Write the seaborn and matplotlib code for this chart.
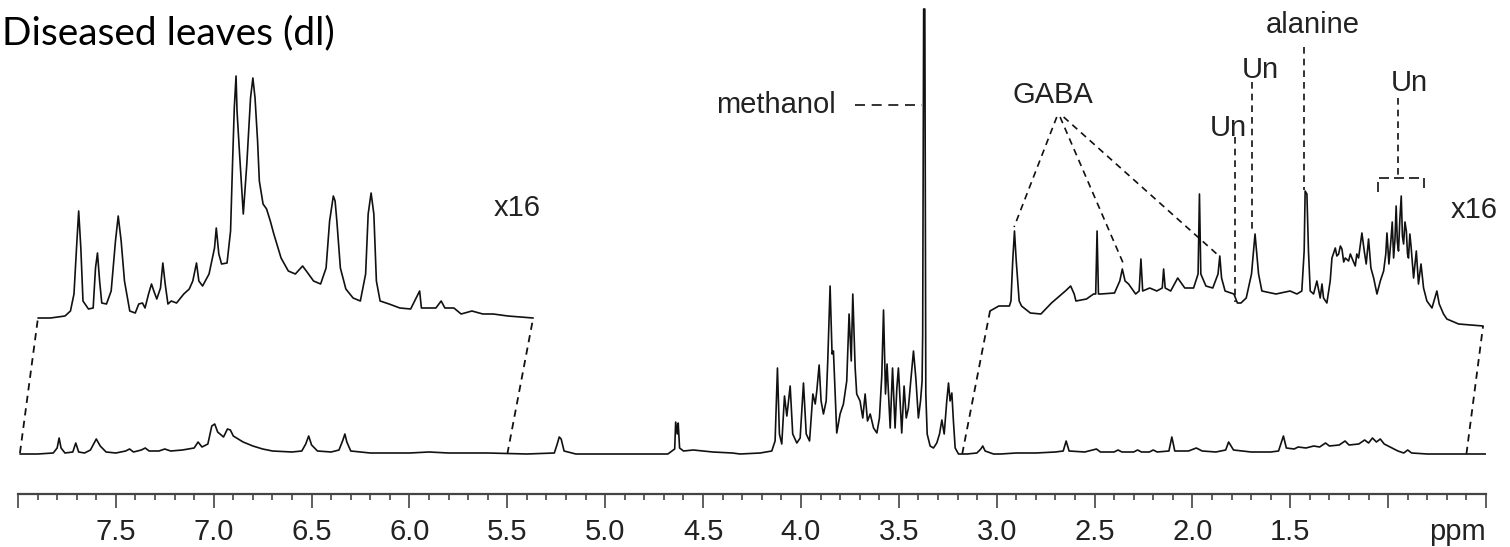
import numpy as np
import matplotlib
matplotlib.use('Agg')
import matplotlib.pyplot as plt
import matplotlib.transforms as mtransforms
from matplotlib.ticker import MultipleLocator, FixedLocator, FixedFormatter
import seaborn as sns

# ----------------------------------------------------------------------
# Data (ppm, displayed intensity above baseline)
# ----------------------------------------------------------------------
main_ppm = [
    7.99, 7.90, 7.82, 7.80, 7.79, 7.78, 7.76, 7.72, 7.705, 7.69, 7.66, 7.63,
    7.60, 7.58, 7.55, 7.50, 7.45, 7.43, 7.41, 7.37, 7.35, 7.33, 7.28, 7.25,
    7.22, 7.16, 7.10, 7.08, 7.06, 7.03, 7.01, 6.995, 6.98, 6.95, 6.93, 6.915,
    6.90, 6.85, 6.80, 6.75, 6.70, 6.60, 6.55, 6.53, 6.515, 6.50, 6.47, 6.40,
    6.36, 6.34, 6.33, 6.32, 6.30, 6.20, 6.00, 5.90, 5.80, 5.60, 5.40, 5.26,
    5.245, 5.235, 5.225, 5.21, 5.15, 4.90, 4.68, 4.645, 4.64, 4.632, 4.627,
    4.62, 4.60, 4.55, 4.45, 4.35,
    4.311, 4.208, 4.149, 4.132, 4.120, 4.110, 4.098, 4.084, 4.072, 4.055,
    4.042, 4.021, 4.004, 3.987, 3.973, 3.956, 3.939, 3.927, 3.919, 3.907,
    3.897, 3.885, 3.871, 3.863, 3.851, 3.841, 3.834, 3.817, 3.800, 3.783,
    3.766, 3.754, 3.743, 3.735, 3.723, 3.715, 3.698, 3.684, 3.672, 3.660,
    3.646, 3.629, 3.612, 3.599, 3.587, 3.578, 3.568, 3.560, 3.544, 3.532,
    3.519, 3.510, 3.502, 3.485, 3.473, 3.462, 3.451, 3.439, 3.425, 3.413,
    3.400, 3.389, 3.381, 3.378, 3.373, 3.367, 3.362, 3.355, 3.340, 3.323,
    3.306, 3.292, 3.280, 3.268, 3.255, 3.246, 3.238, 3.229, 3.221, 3.212,
    3.195, 3.152, 3.101, 3.081, 3.071, 3.059, 3.016, 2.98,
    2.90, 2.80, 2.70, 2.66, 2.645, 2.63, 2.55, 2.49, 2.47, 2.40, 2.38, 2.36,
    2.30, 2.28, 2.26, 2.22, 2.20, 2.18, 2.12, 2.105, 2.09, 2.02, 1.98, 1.95,
    1.88, 1.83, 1.815, 1.79, 1.70, 1.60, 1.56, 1.535, 1.52, 1.48, 1.46, 1.42,
    1.38, 1.35, 1.32, 1.30, 1.25, 1.22, 1.20, 1.15, 1.12, 1.10, 1.08, 1.06,
    1.04, 1.02, 0.99, 0.95, 0.92, 0.90, 0.88, 0.80, 0.50,
]
main_int = [
    0, 0, 1, 6, 16, 6, 1, 2, 11, 2, 1, 4,
    15, 8, 2, 1, 3, 5, 2, 4, 6, 3, 3, 5,
    3, 4, 6, 12, 7, 10, 28, 30, 22, 17, 25, 24,
    18, 12, 8, 5, 3, 2, 3, 10, 18, 9, 3, 2,
    4, 14, 20, 12, 3, 1, 1, 2, 1, 1, 0, 1,
    10, 17, 15, 3, 0, 0, 0, 5, 32, 20, 31,
    6, 3, 4, 2, 1,
    0, 1, 3, 13, 86, 20, 10, 58, 38, 68,
    20, 11, 16, 71, 20, 13, 60, 50, 63, 89,
    53, 40, 53, 93, 168, 100, 103, 21, 40, 50,
    73, 140, 93, 160, 86, 60, 53, 36, 60, 33,
    40, 26, 21, 36, 78, 144, 60, 90, 26, 86,
    26, 66, 86, 21, 68, 36, 46, 73, 103, 76,
    36, 53, 73, 120, 445, 445, 60, 20, 8, 6,
    11, 20, 34, 20, 53, 71, 53, 61, 33, 6,
    0, 0, 1, 5, 8, 3, 0, 0,
    1, 1, 2, 3, 13, 3, 2, 5, 2, 2, 4, 2,
    2, 4, 2, 2, 4, 2, 3, 17, 3, 3, 6, 3,
    2, 4, 12, 4, 2, 2, 3, 18, 6, 5, 7, 6,
    8, 7, 11, 8, 9, 13, 9, 10, 14, 11, 16, 12,
    15, 10, 7, 3, 1, 4, 1, 0, 0,
]

# x16 expansion of the aromatic region, drawn raised above the trace
left_inset_ppm = [
    7.898, 7.834, 7.760, 7.732, 7.714, 7.701, 7.690, 7.679, 7.668, 7.640,
    7.616, 7.604, 7.594, 7.583, 7.572, 7.548, 7.524, 7.502, 7.488, 7.473,
    7.456, 7.429, 7.401, 7.383, 7.364, 7.351, 7.333, 7.318, 7.306, 7.291,
    7.272, 7.260, 7.248, 7.234, 7.217, 7.190, 7.153, 7.125, 7.107, 7.088,
    7.076, 7.057, 7.024, 6.996, 6.987, 6.974, 6.960, 6.932, 6.914, 6.904,
    6.895, 6.886, 6.881, 6.868, 6.849, 6.831, 6.812, 6.800, 6.789, 6.776,
    6.767, 6.748, 6.730, 6.711, 6.693, 6.656, 6.619, 6.583, 6.546, 6.527,
    6.490, 6.454, 6.426, 6.408, 6.389, 6.380, 6.371, 6.353, 6.325, 6.288,
    6.251, 6.224, 6.211, 6.196, 6.182, 6.169, 6.150, 6.104, 6.049, 5.994,
    5.948, 5.939, 5.865, 5.838, 5.819, 5.773, 5.736, 5.681, 5.625, 5.572,
    5.497, 5.368,
]
left_inset_int = [
    136, 136, 138, 143, 160, 206, 243, 206, 153, 145,
    146, 186, 201, 173, 151, 150, 163, 213, 238, 213,
    173, 143, 141, 150, 151, 146, 160, 170, 163, 155,
    166, 191, 170, 150, 153, 151, 160, 165, 173, 191,
    173, 168, 180, 206, 226, 200, 190, 191, 223, 290,
    346, 378, 343, 300, 240, 290, 356, 376, 356, 313,
    273, 250, 245, 233, 220, 196, 183, 180, 188, 183,
    173, 170, 186, 233, 258, 253, 233, 186, 165, 156,
    153, 180, 240, 261, 240, 173, 153, 150, 146, 145,
    163, 146, 146, 153, 146, 146, 140, 143, 140, 140,
    138, 136,
]

# x16 expansion of the aliphatic region
right_inset_ppm = [
    3.034, 2.989, 2.935, 2.927, 2.918, 2.909, 2.900, 2.885, 2.873, 2.828,
    2.774, 2.720, 2.667, 2.649, 2.622, 2.604, 2.595, 2.541, 2.505, 2.494,
    2.487, 2.480, 2.469, 2.398, 2.371, 2.358, 2.344, 2.326, 2.290, 2.272,
    2.263, 2.254, 2.218, 2.182, 2.154, 2.147, 2.139, 2.111, 2.075, 2.039,
    1.994, 1.971, 1.964, 1.957, 1.931, 1.896, 1.869, 1.860, 1.851, 1.833,
    1.788, 1.770, 1.752, 1.725, 1.698, 1.680, 1.662, 1.645, 1.573, 1.501,
    1.466, 1.441, 1.429, 1.424, 1.415, 1.407, 1.398, 1.381, 1.364, 1.347,
    1.338, 1.330, 1.313, 1.296, 1.287, 1.270, 1.262, 1.253, 1.244, 1.236,
    1.227, 1.219, 1.202, 1.193, 1.185, 1.168, 1.160, 1.151, 1.134, 1.122,
    1.112, 1.100, 1.088, 1.074, 1.057, 1.040, 1.023, 1.012, 1.006, 0.996,
    0.986, 0.979, 0.972, 0.965, 0.959, 0.953, 0.947, 0.940, 0.933, 0.927,
    0.921, 0.914, 0.907, 0.901, 0.896, 0.889, 0.883, 0.876, 0.870, 0.856,
    0.845, 0.832, 0.819, 0.802, 0.776, 0.751, 0.739, 0.717, 0.700, 0.640,
    0.515,
]
right_inset_int = [
    143, 148, 148, 153, 193, 223, 193, 153, 148, 141,
    140, 151, 160, 163, 168, 160, 153, 155, 160, 160,
    223, 160, 160, 161, 173, 185, 173, 170, 160, 163,
    195, 163, 166, 163, 166, 185, 166, 163, 176, 166,
    166, 180, 260, 180, 168, 166, 180, 198, 176, 163,
    160, 151, 151, 156, 180, 220, 180, 163, 160, 163,
    160, 163, 203, 263, 260, 203, 163, 160, 173, 156,
    170, 156, 151, 173, 196, 206, 198, 200, 208, 205,
    192, 196, 193, 200, 196, 188, 200, 196, 221, 203,
    190, 215, 186, 176, 160, 173, 183, 200, 221, 190,
    213, 232, 196, 215, 248, 212, 203, 235, 258, 218,
    210, 232, 223, 200, 196, 220, 208, 190, 176, 203,
    170, 190, 166, 153, 146, 163, 150, 140, 135, 130,
    128,
]

tick_ppm = [8.0, 7.5, 7.0, 6.5, 6.0, 5.5, 5.0, 4.5, 4.0, 3.5, 3.0, 2.5,
            2.0, 1.5, 1.0, 0.5]
tick_labels = ['', '7.5', '7.0', '6.5', '6.0', '5.5', '5.0', '4.5', '4.0',
               '3.5', '3.0', '2.5', '2.0', '1.5', '', '']

# ----------------------------------------------------------------------
# Style
# ----------------------------------------------------------------------
sns.set_style('white')
plt.rcParams['font.family'] = ['Liberation Sans', 'DejaVu Sans']

INK = '#111111'
TXT = '#222222'
AXC = '#444444'
DASH = (0, (4, 3))

fig = plt.figure(figsize=(15.10, 5.47), dpi=100)
W, H = 1510, 547
ax = fig.add_axes([18 / W, (H - 494) / H, (1486 - 18) / W, 494 / H])

# spectrum + the two raised x16 traces
for xs, ys in [(main_ppm, main_int),
               (left_inset_ppm, left_inset_int),
               (right_inset_ppm, right_inset_int)]:
    sns.lineplot(x=xs, y=ys, sort=False, estimator=None, ax=ax,
                 color=INK, linewidth=1.2)

# dashed connectors from the trace to the expansions
connectors = [
    ((main_ppm[0], left_inset_ppm[0]), (1, left_inset_int[0])),
    ((5.50, left_inset_ppm[-1]), (0, left_inset_int[-1])),
    ((3.176, right_inset_ppm[0]), (0, right_inset_int[0])),
    ((0.60, right_inset_ppm[-1]), (0, right_inset_int[-1])),
]
for xs, ys in connectors:
    ax.plot(xs, ys, color=INK, lw=1.3, ls=DASH)

# annotations
fs = 21
ax.text(3.82, 349, 'methanol', ha='right', va='center', fontsize=fs, color=TXT)
ax.plot([3.723, 3.381], [349, 349], color=INK, lw=1.2, ls=(0, (6, 4)))

ax.text(2.711, 359, 'GABA', ha='center', va='center', fontsize=fs, color=TXT)
for (x0, x1), (y0, y1) in [((2.693, 2.911), (337, 227)),
                           ((2.676, 2.354), (337, 191)),
                           ((2.658, 1.858), (337, 197))]:
    ax.plot([x0, x1], [y0, y1], color=INK, lw=1.2, ls=DASH)

ax.text(1.383, 429, 'alanine', ha='center', va='center', fontsize=fs, color=TXT)
ax.plot([1.429, 1.429], [407, 264], color=INK, lw=1.2, ls=DASH)

ax.text(1.654, 384, 'Un', ha='center', va='center', fontsize=fs, color=TXT)
ax.plot([1.695, 1.695], [372, 221], color=INK, lw=1.2, ls=DASH)

ax.text(1.817, 326, 'Un', ha='center', va='center', fontsize=fs, color=TXT)
ax.plot([1.781, 1.781], [317, 152], color=INK, lw=1.2, ls=DASH)

ax.text(0.892, 371, 'Un', ha='center', va='center', fontsize=fs, color=TXT)
ax.plot([0.950, 0.950], [356, 276], color=INK, lw=1.2, ls=DASH)
ax.plot([1.053, 1.053, 0.819, 0.819], [262, 276, 276, 262],
        color=INK, lw=1.2, ls=(0, (6, 3)))

ax.text(5.45, 246, 'x16', ha='center', va='center', fontsize=fs, color=TXT)
ax.text(0.56, 244, 'x16', ha='center', va='center', fontsize=fs, color=TXT)

# axis: reversed ppm scale, only the bottom spine
ax.set_xlim(8.0, 0.5)
ax.set_ylim(-40, 454)
ax.set_xlabel('')
ax.set_ylabel('')
for side in ['left', 'top', 'right']:
    ax.spines[side].set_visible(False)
ax.spines['bottom'].set_color(AXC)
ax.spines['bottom'].set_linewidth(1.6)
ax.set_yticks([])
ax.xaxis.set_major_locator(FixedLocator(tick_ppm))
ax.xaxis.set_major_formatter(FixedFormatter(tick_labels))
ax.xaxis.set_minor_locator(MultipleLocator(0.1))
TICK_LEN, TICK_PAD = 10, 7
ax.tick_params(axis='x', which='major', bottom=True, direction='out',
               length=TICK_LEN, width=1.2, color=AXC, labelsize=fs,
               labelcolor=TXT, pad=TICK_PAD)
ax.tick_params(axis='x', which='minor', bottom=True, direction='out',
               length=4.5, width=1.2, color=AXC)

trans = mtransforms.blended_transform_factory(ax.transData, ax.transAxes)
ax.annotate('ppm', xy=(0.50, 0), xycoords=trans,
            xytext=(0, -(TICK_LEN + TICK_PAD)), textcoords='offset points',
            ha='right', va='top', fontsize=fs, color=TXT)

fig.text(0.001, 1 - 33 / H, 'Diseased leaves (dl)', ha='left', va='center',
         fontsize=28, color='black', family=['Lato', 'DejaVu Sans'])

fig.savefig('out.png', dpi=100)
